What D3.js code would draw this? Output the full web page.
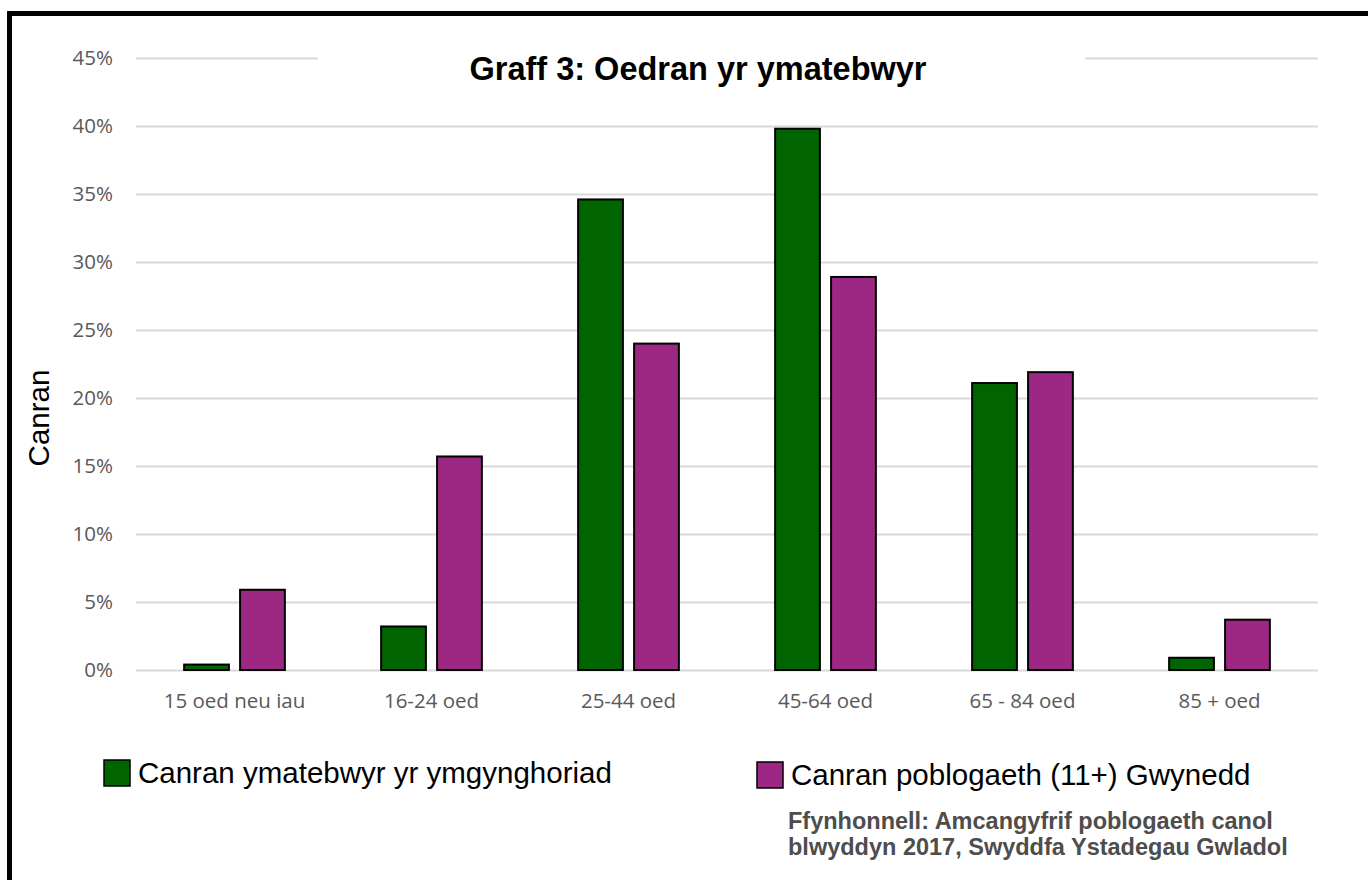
<!DOCTYPE html>
<html lang="cy">
<head>
<meta charset="UTF-8">
<title>Graff 3: Oedran yr ymatebwyr</title>
<script src="https://d3js.org/d3.v7.min.js"></script>
<style>
  html, body { margin: 0; padding: 0; background: #fff; overflow: hidden; }
  .grid line { stroke: #d9d9d9; stroke-width: 2px; }
  .tick text { fill: #595959; font-family: "Open Sans", sans-serif; font-size: 20.5px; }
</style>
</head>
<body>
<div id="chart"></div>
<script>
// data (percent)
const categories = ["15 oed neu iau", "16-24 oed", "25-44 oed", "45-64 oed", "65 - 84 oed", "85 + oed"];
const seriesNames = ["Canran ymatebwyr yr ymgynghoriad", "Canran poblogaeth (11+) Gwynedd"];
const respondents = [0.4, 3.2, 34.6, 39.8, 21.1, 0.9];
const population = [5.9, 15.7, 24.0, 28.9, 21.9, 3.7];
const yTicks = [0, 5, 10, 15, 20, 25, 30, 35, 40, 45];
const colors = ["#006400", "#9d2883"];

const W = 1368, H = 880;
const margin = { left: 136, right: 50, top: 58, bottom: 210 };
const plotW = W - margin.left - margin.right;   // 1182
const plotH = H - margin.top - margin.bottom;   // 612

const rows = categories.map((c, i) => ({ cat: c, values: [respondents[i], population[i]] }));

const svg = d3.select("#chart").append("svg")
    .attr("width", W)
    .attr("height", H);

// outer frame (runs off the right and bottom edges)
svg.append("rect")
    .attr("x", 9.5).attr("y", 13.5)
    .attr("width", 1500).attr("height", 1000)
    .attr("fill", "none")
    .attr("stroke", "#000")
    .attr("stroke-width", 5);

const x0 = d3.scaleBand()
    .domain(categories)
    .range([margin.left, margin.left + plotW])
    .padding(0);

const x1 = d3.scaleBand()
    .domain(d3.range(seriesNames.length))
    .range([0, x0.bandwidth()])
    .paddingInner(0.2)
    .paddingOuter(0.86);

const y = d3.scaleLinear()
    .domain([0, 45])
    .range([margin.top + plotH, margin.top]);

// gridlines + y labels
const gy = svg.append("g")
    .attr("class", "grid")
    .attr("transform", `translate(${margin.left},0)`)
    .call(d3.axisLeft(y).tickValues(yTicks).tickFormat(d => d + "%")
        .tickSize(-plotW).tickPadding(23));
gy.select(".domain").remove();

// white box behind the title
svg.append("rect")
    .attr("x", 318).attr("y", 40)
    .attr("width", 767).attr("height", 50)
    .attr("fill", "#fff");

svg.append("text")
    .attr("x", 698).attr("y", 80)
    .attr("text-anchor", "middle")
    .style("font-family", "'Liberation Sans', Arial, sans-serif")
    .style("font-weight", "bold")
    .style("font-size", "32.5px")
    .text("Graff 3: Oedran yr ymatebwyr");

// bars
const groups = svg.append("g").selectAll("g")
    .data(rows)
    .join("g")
    .attr("transform", d => `translate(${x0(d.cat)},0)`);

groups.selectAll("rect")
    .data(d => d.values.map((v, i) => ({ v, i })))
    .join("rect")
    .attr("x", d => x1(d.i))
    .attr("y", d => y(d.v))
    .attr("width", x1.bandwidth())
    .attr("height", d => y(0) - y(d.v))
    .attr("fill", d => colors[d.i])
    .attr("stroke", "#000")
    .attr("stroke-width", 2);

// category axis
const gx = svg.append("g")
    .attr("transform", `translate(0,${y(0)})`)
    .call(d3.axisBottom(x0).tickSize(0));
gx.select(".domain").remove();
gx.selectAll("text").attr("y", 38).attr("dy", null);

// y axis title
svg.append("text")
    .attr("transform", "translate(49,418) rotate(-90)")
    .attr("text-anchor", "middle")
    .style("font-family", "'Liberation Sans', Arial, sans-serif")
    .style("font-size", "29.5px")
    .text("Canran");

// legend
const legendPos = [{ x: 104, y: 760 }, { x: 757, y: 762 }];
const lg = svg.append("g").selectAll("g")
    .data(seriesNames)
    .join("g")
    .attr("transform", (d, i) => `translate(${legendPos[i].x},${legendPos[i].y})`);
lg.append("rect")
    .attr("width", 26).attr("height", 26)
    .attr("fill", (d, i) => colors[i])
    .attr("stroke", "#000")
    .attr("stroke-width", 1.5);
lg.append("text")
    .attr("x", 34).attr("y", 23)
    .style("font-family", "'Liberation Sans', Arial, sans-serif")
    .style("font-size", "29.5px")
    .text(d => d);

// source note
const source = ["Ffynhonnell: Amcangyfrif poblogaeth canol", "blwyddyn 2017, Swyddfa Ystadegau Gwladol"];
svg.append("g").selectAll("text")
    .data(source)
    .join("text")
    .attr("x", 788)
    .attr("y", (d, i) => 829 + i * 26)
    .style("font-family", "'Liberation Sans', Arial, sans-serif")
    .style("font-weight", "bold")
    .style("font-size", "23.5px")
    .style("fill", "#4d4d4d")
    .text(d => d);
</script>
</body>
</html>
